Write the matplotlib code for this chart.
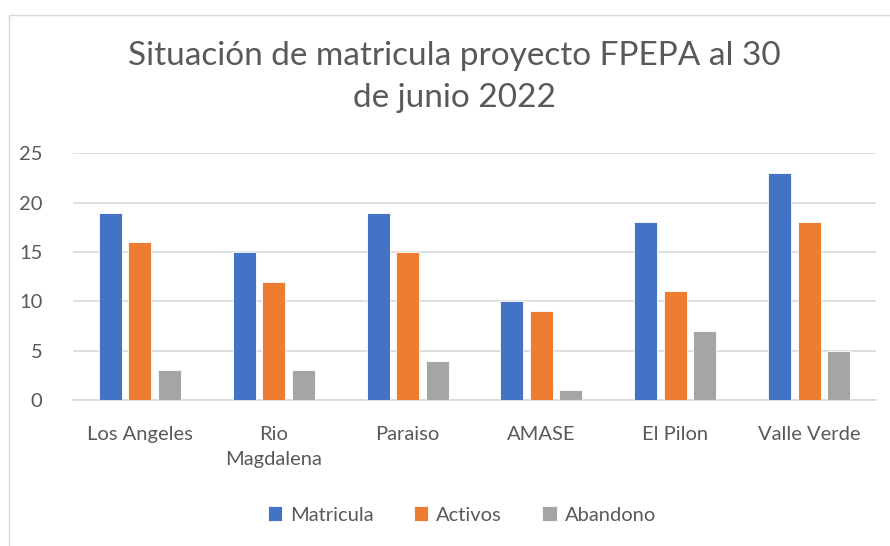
import matplotlib
matplotlib.use("Agg")
import matplotlib.pyplot as plt
import numpy as np
from matplotlib.patches import Rectangle

categories = ["Los Angeles", "Rio\nMagdalena", "Paraiso", "AMASE", "El Pilon", "Valle Verde"]
series_names = ["Matricula", "Activos", "Abandono"]
matricula = [19, 15, 19, 10, 18, 23]
activos = [16, 12, 15, 9, 11, 18]
abandono = [3, 3, 4, 1, 7, 5]
yticks = [0, 5, 10, 15, 20, 25]
title = "Situación de matricula proyecto FPEPA al 30\nde junio 2022"

colors = ["#4472C4", "#ED7D31", "#A5A5A5"]
text_color = "#595959"
font = ["Lato", "DejaVu Sans"]

fig = plt.figure(figsize=(8.9, 5.46), dpi=100)
fig.patches.append(Rectangle((9/890, -0.1), 1.1, 1 - 15/546 + 0.1, transform=fig.transFigure,
                             fill=False, edgecolor="#D9D9D9", linewidth=1.0))
ax = fig.add_axes([73/890, 1 - 400/546, (876 - 73)/890, (400 - 153.3)/546])

x = np.arange(len(categories))
w = 0.172
step = 0.22
for i, (vals, name) in enumerate(zip([matricula, activos, abandono], series_names)):
    ax.bar(x + (i - 1) * step, vals, width=w, color=colors[i], label=name, zorder=3,
           edgecolor="white", linewidth=0.6)

ax.set_xlim(-0.5, len(categories) - 0.5)
ax.set_ylim(0, 25)
ax.set_yticks(yticks)
ax.set_yticklabels([str(t) for t in yticks], fontsize=14.5, color=text_color, family=font)
ax.set_xticks(x)
ax.set_xticklabels(categories, fontsize=14.5, color=text_color, family=font, linespacing=1.55)
ax.tick_params(axis="both", length=0)
ax.tick_params(axis="y", pad=22)
ax.tick_params(axis="x", pad=19)
ax.grid(axis="y", color="#D9D9D9", linewidth=1.2, zorder=0)
for s in ["top", "right", "left"]:
    ax.spines[s].set_visible(False)
ax.spines["bottom"].set_color("#D9D9D9")
ax.spines["bottom"].set_linewidth(1.2)

fig.text(0.511, 1 - 77/546, title, ha="center", va="center", fontsize=24,
         color=text_color, family=font, fontweight="normal", linespacing=1.5)

leg = fig.legend(loc="center", bbox_to_anchor=(462/890, 1 - 515/546), ncol=3, frameon=False,
                 prop={"family": font, "size": 14.5}, handlelength=0.7, handleheight=0.7,
                 columnspacing=2.0, handletextpad=0.4)
for t in leg.get_texts():
    t.set_color(text_color)

fig.savefig("out.png", dpi=100)
